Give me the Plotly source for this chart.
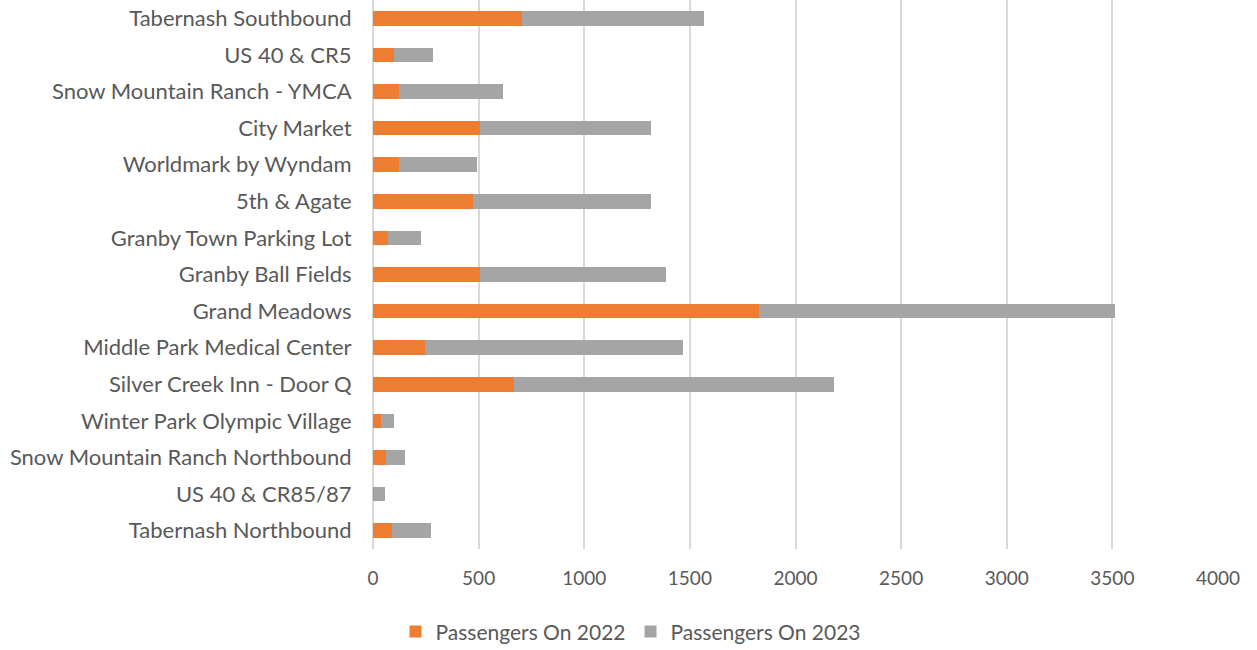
import plotly.graph_objects as go

stops = [
    "Tabernash Southbound",
    "US 40 & CR5",
    "Snow Mountain Ranch - YMCA",
    "City Market",
    "Worldmark by Wyndam",
    "5th & Agate",
    "Granby Town Parking Lot",
    "Granby Ball Fields",
    "Grand Meadows",
    "Middle Park Medical Center",
    "Silver Creek Inn - Door Q",
    "Winter Park Olympic Village",
    "Snow Mountain Ranch Northbound",
    "US 40 & CR85/87",
    "Tabernash Northbound",
]
passengers_2022 = [705, 99, 123, 505, 123, 473, 71, 505, 1827, 246, 669, 38, 62, 5, 90]
passengers_2023 = [860, 183, 491, 809, 369, 844, 156, 880, 1687, 1220, 1514, 63, 91, 54, 186]
x_ticks = [0, 500, 1000, 1500, 2000, 2500, 3000, 3500, 4000]

FONT = "Lato, Calibri, Carlito, sans-serif"
TXT = "#595959"

fig = go.Figure()
fig.add_trace(go.Bar(
    y=stops, x=passengers_2022, orientation="h", name="Passengers On 2022",
    marker=dict(color="#ED7D31", line=dict(width=0)),
))
fig.add_trace(go.Bar(
    y=stops, x=passengers_2023, orientation="h", name="Passengers On 2023",
    marker=dict(color="#A5A5A5", line=dict(width=0)),
))

fig.update_layout(
    barmode="stack",
    bargap=0.6,
    width=1257, height=650,
    margin=dict(l=373, r=39, t=0, b=101, autoexpand=False),
    paper_bgcolor="white", plot_bgcolor="white",
    font=dict(family=FONT, size=19, color=TXT),
    showlegend=True,
    legend=dict(
        orientation="h", xref="container", yref="container",
        x=0.502, xanchor="center", y=0.028, yanchor="middle",
        font=dict(size=21, color=TXT), traceorder="normal",
        itemwidth=30,
    ),
    xaxis=dict(
        range=[0, 4000], tickvals=x_ticks, ticktext=[str(v) for v in x_ticks],
        showgrid=True, gridcolor="#D9D9D9", gridwidth=2,
        zeroline=True, zerolinecolor="#D9D9D9", zerolinewidth=2,
        showline=False, ticks="outside", ticklen=12, tickcolor="rgba(0,0,0,0)",
        tickfont=dict(size=19, color=TXT), automargin=False,
    ),
    yaxis=dict(
        autorange="reversed", showgrid=False, showline=False,
        ticks="outside", ticklen=16, tickcolor="rgba(0,0,0,0)",
        tickfont=dict(size=22, color=TXT), automargin=False,
    ),
)

fig.write_html(
    "out.html",
    config={"displayModeBar": False},
    post_script="document.body.style.margin='0';",
)
